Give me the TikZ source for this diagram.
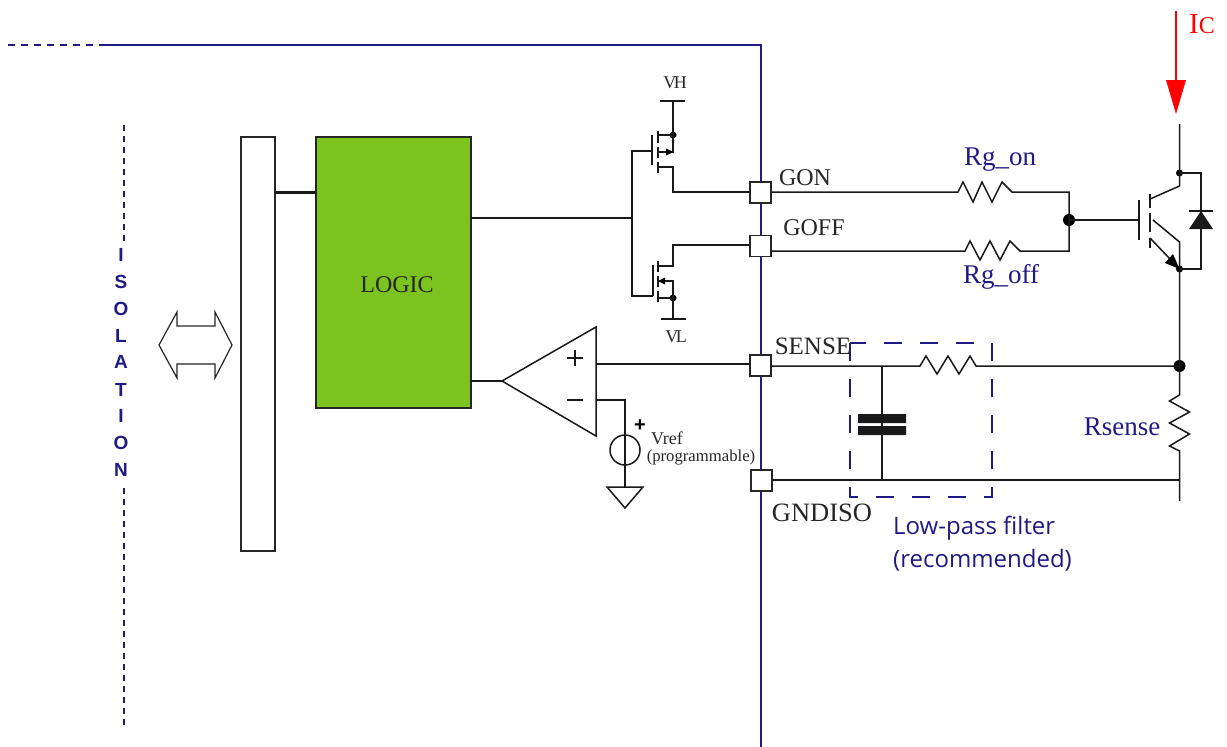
\documentclass[tikz,border=0pt]{standalone}
\usepackage{fontspec}
\setmainfont{Liberation Serif}
\newfontfamily\arialf{Liberation Sans}
\newfontfamily\opensf{Open Sans}
\usetikzlibrary{arrows.meta}
\definecolor{navy}{HTML}{1F1A84}
\definecolor{lgreen}{HTML}{7DC31F}
\newcommand{\fs}[1]{\fontsize{#1}{#1}\selectfont}
\tikzset{
  wire/.style={draw=black!90,line width=1.5pt,line join=miter},
  pad/.style={draw=black!85,line width=1.8pt,fill=white,minimum size=21pt,inner sep=0pt,outer sep=0pt},
  dotn/.style={circle,fill=black,inner sep=0pt,minimum size=#1},
  lbl/.style={inner sep=0pt,text=black!85,font=\fs{24}},
  nlbl/.style={inner sep=0pt,text=navy,font=\fs{27}},
  iso/.style={inner sep=0pt,text=navy,font=\arialf\bfseries\fs{19}},
  border/.style={draw=navy,line width=1.6pt},
  filterbox/.style={draw=navy,line width=1.5pt,dash pattern=on 18pt off 18pt},
}
\begin{document}
\begin{tikzpicture}[x=1pt,y=-1pt]
\useasboundingbox (0,0) rectangle (1227,747);
% border and isolation
\coordinate (b0) at (8,45); \coordinate (b1) at (103,45); \coordinate (b2) at (761,45); \coordinate (b3) at (761,747);
\draw[border,line width=1.2pt,dash pattern=on 7pt off 6pt] (b0) -- (b1);
\draw[border] (b1) -- (b2) -- (b3);
\coordinate (i0) at (124,125); \coordinate (i1) at (124,243);
\coordinate (i2) at (124,488); \coordinate (i3) at (124,727);
\draw[border,line width=1.2pt,dash pattern=on 6pt off 5pt] (i0) -- (i1) (i2) -- (i3);
\foreach \c/\y in {I/255,S/282,O/309,L/336,A/362,T/390,I/416,O/443,N/470}
  \node[iso] at (121,\y) {\c};
% double arrow
\draw[line width=1.2pt,draw=black!85] (159,345) -- (177,312) -- (177,326) -- (215,326) -- (215,312) -- (232,345) -- (215,378) -- (215,364) -- (177,364) -- (177,378) -- cycle;
% blocks
\node[draw=black!85,line width=1.3pt,fill=white,minimum width=34pt,minimum height=414pt,inner sep=0pt,outer sep=0pt] (bar) at (258,344) {};
\node[draw=black!85,line width=1.5pt,fill=lgreen,minimum width=155pt,minimum height=271pt,inner sep=0pt,outer sep=0pt] (logic) at (393.5,272.5) {};
\node[lbl] at (397,285) {LOGIC};
\draw[line width=3pt,draw=black!90] (bar.east |- 0,192) -- (logic.west |- 0,192);
% pads
\node[pad] (gon) at (760.5,192.5) {};
\node[pad] (goff) at (760.5,246) {};
\node[pad] (sense) at (760.5,365.5) {};
\node[pad] (gnd) at (761.5,480.5) {};
% gate net
\coordinate (gj) at (632,218);
\coordinate (hg) at (632,151); \coordinate (lg) at (632,296);
\draw[wire] (logic.east |- gj) -- (gj);
\draw[wire] (652,151) -- (hg) -- (lg) -- (653,296);
% high side mosfet
\node[inner sep=0pt,font=\fs{18},text=black!85] at (675,83) {V\kern-2.5pt H};
\node[inner sep=0pt,font=\fs{18},text=black!85] at (676,337) {V\kern-2.5pt L};
\node[dotn=7pt] (hs) at (673,135) {};
\node[dotn=7pt] (ls) at (673,298) {};
\coordinate (vh) at (673,101); \coordinate (vl) at (673,319);
\draw[wire] (660,101) -- (685,101);
\draw[wire] (661,319) -- (686,319);
\draw[wire] (vh) -- (hs.center) -- (673,152) -- (658,152);
\draw[wire] (hs.center) -- (658,135);
\draw[wire] (652,135) -- (652,165);
\draw[wire] (658,131) -- (658,143) (658,147) -- (658,158) (658,162) -- (658,173);
\draw[wire] (658,167) -- (673,167) -- (673,192) -- (gon.west |- 0,192);
\fill[black] (673,152) -- (666,148.5) -- (666,155.5) -- cycle;
% low side mosfet
\draw[wire] (653,265) -- (653,296);
\draw[wire] (658,261) -- (658,272) (658,276) -- (658,287) (658,291) -- (658,302);
\draw[wire] (658,266) -- (673,266) -- (673,245) -- (goff.west |- 0,245);
\draw[wire] (658,281) -- (673,281) -- (ls.center) -- (vl);
\draw[wire] (ls.center) -- (658,298);
\fill[black] (658,281) -- (665,277.5) -- (665,284.5) -- cycle;
% gate resistors and igbt
\node[dotn=12pt] (gd) at (1069,220) {};
\draw[wire] (gon.east |- 0,192) -- (958,192) -- (963,182) -- (973,202) -- (982,182) -- (992,202) -- (1002,182) -- (1012,192) -- (1069,192) -- (gd.center);
\draw[wire] (goff.east |- 0,251) -- (965,251) -- (970,241) -- (980,260) -- (990,241) -- (1000,260) -- (1010,241) -- (1020,251) -- (1069,251) -- (gd.center);
\draw[wire] (gd.center) -- (1139,220);
\draw[wire] (1139,200) -- (1139,240);
\draw[wire] (1150,194) -- (1150,208) (1150,213) -- (1150,232) (1150,238) -- (1150,248);
\node[dotn=7pt] (cdot) at (1179.5,173) {};
\node[dotn=7pt] (edot) at (1179.5,269) {};
\coordinate (ctop) at (1179.5,124);
\draw[wire] (ctop) -- (cdot.center) -- (1179.5,186) -- (1150,199);
\draw[wire] (1153,220) -- (1179.5,242) -- (edot.center);
\draw[wire] (1150,238) -- (edot.center);
\fill[black] (1179.5,269) -- (1165,263) -- (1173,254) -- cycle;
\draw[wire] (cdot.center) -- (1201,173) -- (1201,269) -- (edot.center);
\draw[wire] (1189,211) -- (1213,211);
\fill[black!90] (1201,211) -- (1189,229) -- (1213,229) -- cycle;
% Ic
\draw[line width=1.5pt,draw=red] (1176,11) -- (1176,82);
\fill[red] (1176,114) -- (1166,80) -- (1186,80) -- cycle;
\node[inner sep=0pt,text=red] at (1202,24) {\fs{29}I\fs{24}C};
% sense
\node[dotn=12pt] (sd) at (1179.5,366) {};
\coordinate (rb) at (1179.5,501);
\draw[wire] (edot.center) -- (sd.center) -- (1179.5,395) -- (1169.5,401) -- (1189.5,412) -- (1169.5,423) -- (1189.5,434) -- (1169.5,446) -- (1179.5,451) -- (rb);
\draw[wire] (sense.east |- 0,366) -- (920,366) -- (926,356) -- (937,374) -- (948,356) -- (959,374) -- (970,356) -- (976,366) -- (sd.center);
\draw[wire] (gnd.east |- 0,480) -- (1180,480);
% capacitor
\coordinate (c0) at (882,366); \coordinate (c1) at (882,480);
\draw[wire] (c0) -- (c1);
\fill[black!90] (858,414) rectangle (906,423) (858,426) rectangle (906,435);
% filter box
\draw[filterbox] (850,343) rectangle (992,497);
% comparator
\draw[wire,fill=white] (502,381) -- (596,327) -- (596,436) -- cycle;
\draw[wire] (logic.east |- 0,381) -- (502,381);
\draw[wire] (567,358) -- (583,358) (575,350) -- (575,366);
\draw[wire] (567,400) -- (583,400);
\draw[wire] (596,364) -- (sense.west |- 0,364);
\node[draw=black!90,line width=1.5pt,circle,minimum size=30pt,inner sep=0pt] (src) at (625,450) {};
\coordinate (gtop) at (625,487);
\draw[wire] (596,400) -- (625,400) -- (src.center) -- (gtop);
\draw[wire] (607,487) -- (643,487) -- (625,508) -- cycle;
\node[inner sep=0pt,font=\bfseries\arialf\fs{20},text=black] at (640,426) {+};
\node[inner sep=0pt,font=\fs{18},text=black!85] at (667,438) {Vref};
\node[inner sep=0pt,font=\fs{16.7},text=black!85] at (701,458) {(programmable)};
% labels
\node[lbl] at (805,178) {GON};
\node[lbl] at (814,228) {GOFF};
\node[lbl,font=\fs{25}] at (813,346) {SENSE};
\node[lbl,font=\fs{26.5}] at (822,513) {GNDISO};
\node[nlbl] at (1000,160) {Rg\_on};
\node[nlbl] at (1001,277) {Rg\_off};
\node[nlbl] at (1122,427) {Rsense};
\node[nlbl,font=\opensf\fs{24},anchor=west] at (893,528) {Low-pass filter};
\node[nlbl,font=\opensf\fs{24},anchor=west] at (893,560) {(recommended)};
\end{tikzpicture}
\end{document}
